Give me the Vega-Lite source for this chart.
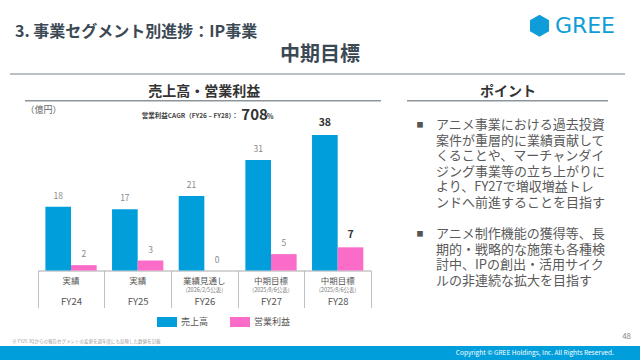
{
  "$schema": "https://vega.github.io/schema/vega-lite/v6.json",
  "background": "white",
  "padding": 0,
  "spacing": 0,
  "config": {
    "view": {"stroke": null},
    "font": "Noto Sans CJK JP",
    "text": {"font": "Noto Sans CJK JP"},
    "concat": {"spacing": 0}
  },
  "datasets": {
    "bars": [
      {"fy": "FY24", "series": "売上高", "value": 17.9, "label": "18"},
      {"fy": "FY24", "series": "営業利益", "value": 1.5, "label": "2"},
      {"fy": "FY25", "series": "売上高", "value": 17.2, "label": "17"},
      {"fy": "FY25", "series": "営業利益", "value": 2.8, "label": "3"},
      {"fy": "FY26", "series": "売上高", "value": 20.9, "label": "21"},
      {"fy": "FY26", "series": "営業利益", "value": 0, "label": "0"},
      {"fy": "FY27", "series": "売上高", "value": 31.0, "label": "31"},
      {"fy": "FY27", "series": "営業利益", "value": 4.6, "label": "5"},
      {"fy": "FY28", "series": "売上高", "value": 38.0, "label": "38"},
      {"fy": "FY28", "series": "営業利益", "value": 6.5, "label": "7"}
    ],
    "cats": [
      {"fy": "FY24", "status": "実績", "note": ""},
      {"fy": "FY25", "status": "実績", "note": ""},
      {"fy": "FY26", "status": "業績見通し", "note": "(2026/2/5公表)"},
      {"fy": "FY27", "status": "中期目標", "note": "(2025/8/6公表)"},
      {"fy": "FY28", "status": "中期目標", "note": "(2025/8/6公表)"}
    ],
    "points": [
      {"line": 0, "first": true, "text": "アニメ事業における過去投資"},
      {"line": 1, "first": false, "text": "案件が重層的に業績貢献して"},
      {"line": 2, "first": false, "text": "くることや、マーチャンダイ"},
      {"line": 3, "first": false, "text": "ジング事業等の立ち上がりに"},
      {"line": 4, "first": false, "text": "より、FY27で増収増益トレ"},
      {"line": 5, "first": false, "text": "ンドへ前進することを目指す"},
      {"line": 7, "first": true, "text": "アニメ制作機能の獲得等、長"},
      {"line": 8, "first": false, "text": "期的・戦略的な施策も各種検"},
      {"line": 9, "first": false, "text": "討中、IPの創出・活用サイク"},
      {"line": 10, "first": false, "text": "ルの非連続な拡大を目指す"}
    ],
    "one": [{"k": 1}]
  },
  "vconcat": [
    {
      "width": 640,
      "height": 78,
      "data": {"name": "one"},
      "layer": [
        {
          "mark": {"type": "text", "text": "3. 事業セグメント別進捗：IP事業", "align": "left", "baseline": "middle", "fontSize": 16, "fontWeight": "bold", "color": "#3b4954"},
          "encoding": {
            "x": {"datum": 0.0234, "type": "quantitative", "scale": {"domain": [0, 1]}, "axis": null},
            "y": {"datum": 0.41, "type": "quantitative", "scale": {"domain": [0, 1], "reverse": true}, "axis": null}
          }
        },
        {
          "mark": {"type": "text", "text": "中期目標", "align": "center", "baseline": "middle", "fontSize": 20, "fontWeight": "bold", "color": "#3b4954"},
          "encoding": {
            "x": {"datum": 0.5, "type": "quantitative", "axis": null},
            "y": {"datum": 0.705, "type": "quantitative", "axis": null}
          }
        },
        {
          "mark": {"type": "rule", "color": "#a3acb3", "strokeWidth": 1.5},
          "encoding": {
            "x": {"datum": 0.0156, "type": "quantitative", "axis": null},
            "x2": {"datum": 0.9766},
            "y": {"datum": 0.949, "type": "quantitative", "axis": null}
          }
        },
        {
          "mark": {"type": "point", "shape": "M0,-1L0.866,-0.5L0.866,0.5L0,1L-0.866,0.5L-0.866,-0.5Z", "filled": true, "size": 484, "color": "#0e9dd8", "opacity": 1},
          "encoding": {
            "x": {"datum": 0.843, "type": "quantitative", "axis": null},
            "y": {"datum": 0.331, "type": "quantitative", "axis": null}
          }
        },
        {
          "mark": {"type": "text", "text": "GREE", "align": "left", "baseline": "middle", "font": "DejaVu Sans", "fontSize": 22, "color": "#0e9dd8"},
          "encoding": {
            "x": {"datum": 0.867, "type": "quantitative", "axis": null},
            "y": {"datum": 0.327, "type": "quantitative", "axis": null}
          }
        }
      ]
    },
    {
      "spacing": 0,
      "hconcat": [
        {
          "width": 390,
          "height": 252,
          "layer": [
            {
              "data": {"name": "bars"},
              "mark": {"type": "bar"},
              "encoding": {
                "x": {
                  "field": "fy", "type": "nominal",
                  "scale": {"type": "band", "domain": ["FY24", "FY25", "FY26", "FY27", "FY28"], "range": [37.7, 371], "paddingInner": 0, "paddingOuter": 0},
                  "axis": {"title": null, "offset": -59.5, "tickBand": "extent", "tickSize": 37, "tickColor": "#c0c0c0", "tickWidth": 1, "domainColor": "#a9a9a9", "domainWidth": 1, "labelFontSize": 9.5, "labelColor": "#555555", "labelPadding": -6, "labelBaseline": "middle", "labelAngle": 0, "labelFont": "Noto Sans CJK JP", "grid": false}
                },
                "xOffset": {"field": "series", "type": "nominal", "scale": {"domain": ["売上高", "営業利益"], "paddingInner": 0, "paddingOuter": 0.3}},
                "y": {
                  "field": "value", "type": "quantitative",
                  "scale": {"domain": [-16.69, 54.0], "nice": false, "zero": false},
                  "axis": {"title": "（億円）", "titleAngle": 0, "titleAlign": "left", "titleBaseline": "middle", "titleX": 25, "titleY": 31, "titleFontSize": 9, "titleFontWeight": "normal", "titleColor": "#666666", "titleFont": "Noto Sans CJK JP", "labels": false, "ticks": false, "domain": false, "grid": false}
                },
                "color": {
                  "field": "series", "type": "nominal",
                  "scale": {"domain": ["売上高", "営業利益"], "range": ["#009edb", "#fa6cc8"]},
                  "legend": {"title": null, "orient": "none", "legendX": 157, "legendY": 312, "direction": "horizontal", "symbolType": "M-1,-0.5H1V0.5H-1Z", "symbolSize": 400, "symbolStrokeWidth": 0, "symbolOpacity": 1, "labelFontSize": 9, "labelColor": "#555555", "labelFont": "Noto Sans CJK JP", "labelOffset": 4, "columnPadding": 21, "padding": 0}
                }
              }
            },
            {
              "data": {"name": "bars"},
              "transform": [{"filter": "datum.fy !== 'FY28'"}],
              "mark": {"type": "text", "dy": -11, "fontSize": 8.5, "color": "#8a8a8a", "baseline": "middle"},
              "encoding": {
                "x": {"field": "fy", "type": "nominal"},
                "xOffset": {"field": "series", "type": "nominal"},
                "y": {"field": "value", "type": "quantitative"},
                "text": {"field": "label"}
              }
            },
            {
              "data": {"name": "bars"},
              "transform": [{"filter": "datum.fy === 'FY28'"}],
              "mark": {"type": "text", "dy": -12.5, "fontSize": 10.5, "fontWeight": "bold", "color": "#333333", "baseline": "middle"},
              "encoding": {
                "x": {"field": "fy", "type": "nominal"},
                "xOffset": {"field": "series", "type": "nominal"},
                "y": {"field": "value", "type": "quantitative"},
                "text": {"field": "label"}
              }
            },
            {
              "data": {"name": "cats"},
              "mark": {"type": "text", "fontSize": 8.5, "color": "#555555", "baseline": "middle"},
              "encoding": {
                "x": {"field": "fy", "type": "nominal"},
                "y": {"datum": -2.95, "type": "quantitative"},
                "text": {"field": "status"}
              }
            },
            {
              "data": {"name": "cats"},
              "mark": {"type": "text", "fontSize": 5.5, "color": "#777777", "baseline": "middle"},
              "encoding": {
                "x": {"field": "fy", "type": "nominal"},
                "y": {"datum": -5.47, "type": "quantitative"},
                "text": {"field": "note"}
              }
            },
            {
              "data": {"name": "one"},
              "mark": {"type": "text", "text": "売上高・営業利益", "fontSize": 14, "fontWeight": "bold", "color": "#333333", "baseline": "middle"},
              "encoding": {
                "x": {"datum": "FY26", "type": "nominal"},
                "y": {"datum": 50.15, "type": "quantitative"}
              }
            },
            {
              "data": {"name": "one"},
              "mark": {"type": "rule", "color": "#8c959c", "strokeWidth": 1.5},
              "encoding": {
                "x": {"datum": "FY24", "type": "nominal", "bandPosition": -0.19},
                "x2": {"datum": "FY28", "bandPosition": 1.15},
                "y": {"datum": 47.63, "type": "quantitative"}
              }
            },
            {
              "data": {"name": "one"},
              "mark": {"type": "text", "text": "営業利益CAGR（FY26 – FY28）：", "align": "right", "baseline": "alphabetic", "dx": 34, "fontSize": 6.5, "fontWeight": "bold", "color": "#444444"},
              "encoding": {
                "x": {"datum": "FY26", "type": "nominal"},
                "y": {"datum": 42.9, "type": "quantitative"}
              }
            },
            {
              "data": {"name": "one"},
              "mark": {"type": "text", "text": "708", "align": "left", "baseline": "alphabetic", "dx": 37, "fontSize": 15, "fontWeight": "bold", "color": "#333333"},
              "encoding": {
                "x": {"datum": "FY26", "type": "nominal"},
                "y": {"datum": 42.2, "type": "quantitative"}
              }
            },
            {
              "data": {"name": "one"},
              "mark": {"type": "text", "text": "%", "align": "left", "baseline": "alphabetic", "dx": 62.5, "fontSize": 7, "fontWeight": "bold", "color": "#333333"},
              "encoding": {
                "x": {"datum": "FY26", "type": "nominal"},
                "y": {"datum": 42.4, "type": "quantitative"}
              }
            }
          ]
        },
        {
          "width": 250,
          "height": 252,
          "layer": [
            {
              "data": {"name": "one"},
              "mark": {"type": "text", "text": "ポイント", "fontSize": 14, "fontWeight": "bold", "color": "#333333", "baseline": "middle"},
              "encoding": {
                "x": {"datum": 0.472, "type": "quantitative", "scale": {"domain": [0, 1]}, "axis": null},
                "y": {"datum": -2.115, "type": "quantitative", "scale": {"domain": [-3.013, 13.141], "reverse": true, "nice": false, "zero": false}, "axis": null}
              }
            },
            {
              "data": {"name": "one"},
              "mark": {"type": "rule", "color": "#8c959c", "strokeWidth": 1.5},
              "encoding": {
                "x": {"datum": 0.068, "type": "quantitative", "axis": null},
                "x2": {"datum": 0.872},
                "y": {"datum": -1.558, "type": "quantitative", "axis": null}
              }
            },
            {
              "data": {"name": "points"},
              "transform": [{"filter": "datum.first"}],
              "mark": {"type": "text", "text": "■", "fontSize": 7, "color": "#555555", "baseline": "middle"},
              "encoding": {
                "x": {"datum": 0.12, "type": "quantitative", "axis": null},
                "y": {"field": "line", "type": "quantitative", "axis": null}
              }
            },
            {
              "data": {"name": "points"},
              "mark": {"type": "text", "align": "left", "baseline": "middle", "fontSize": 13, "color": "#5a5a5a"},
              "encoding": {
                "x": {"datum": 0.184, "type": "quantitative", "axis": null},
                "y": {"field": "line", "type": "quantitative", "axis": null},
                "text": {"field": "text"}
              }
            }
          ]
        }
      ]
    },
    {
      "width": 640,
      "height": 30,
      "data": {"name": "one"},
      "layer": [
        {
          "mark": {"type": "rect", "color": "#009edb"},
          "encoding": {
            "x": {"datum": 0, "type": "quantitative", "scale": {"domain": [0, 1]}, "axis": null},
            "x2": {"datum": 1},
            "y": {"datum": 0.533, "type": "quantitative", "scale": {"domain": [0, 1], "reverse": true}, "axis": null},
            "y2": {"datum": 1}
          }
        },
        {
          "mark": {"type": "text", "text": "※ FY25 3Qからの報告セグメントの変更を過年度にも反映した数値を記載", "align": "left", "baseline": "middle", "fontSize": 4.5, "color": "#999999"},
          "encoding": {
            "x": {"datum": 0.019, "type": "quantitative", "axis": null},
            "y": {"datum": 0.4, "type": "quantitative", "axis": null}
          }
        },
        {
          "mark": {"type": "text", "text": "48", "align": "right", "baseline": "middle", "fontSize": 8, "color": "#888888"},
          "encoding": {
            "x": {"datum": 0.986, "type": "quantitative", "axis": null},
            "y": {"datum": 0.233, "type": "quantitative", "axis": null}
          }
        },
        {
          "mark": {"type": "text", "text": "Copyright © GREE Holdings, Inc. All Rights Reserved.", "align": "right", "baseline": "middle", "fontSize": 6.5, "color": "white"},
          "encoding": {
            "x": {"datum": 0.959, "type": "quantitative", "axis": null},
            "y": {"datum": 0.767, "type": "quantitative", "axis": null}
          }
        }
      ]
    }
  ]
}
